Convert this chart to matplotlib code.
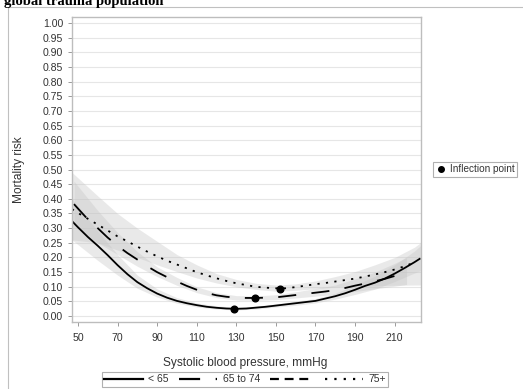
import numpy as np
import matplotlib
matplotlib.use("Agg")
import matplotlib.pyplot as plt
from matplotlib.lines import Line2D
from matplotlib.patches import Rectangle

plt.rcParams['font.family'] = ['Liberation Sans', 'DejaVu Sans']

# fitted mortality curves
sbp_lt65 = [47, 50, 55, 60, 65, 70, 75, 80, 85, 90, 95, 100, 105, 110, 115, 120, 125, 130,
            135, 140, 145, 150, 155, 160, 165, 170, 175, 180, 185, 190, 195, 200, 205, 210,
            215, 220, 223]
risk_lt65 = [0.324, 0.303, 0.270, 0.240, 0.208, 0.174, 0.143, 0.116, 0.095, 0.077, 0.063,
             0.052, 0.044, 0.0375, 0.032, 0.0285, 0.026, 0.025, 0.026, 0.029, 0.032, 0.036,
             0.040, 0.044, 0.048, 0.052, 0.060, 0.068, 0.078, 0.090, 0.103, 0.114, 0.128,
             0.145, 0.164, 0.184, 0.197]

sbp_6574 = [48, 50, 55, 60, 65, 70, 75, 80, 85, 90, 95, 100, 105, 110, 115, 120, 125, 130,
            135, 140, 145, 150, 155, 160, 165, 170, 175, 180, 185, 190, 195, 200, 205, 210, 216]
risk_6574 = [0.382, 0.367, 0.330, 0.300, 0.268, 0.240, 0.215, 0.193, 0.170, 0.150, 0.133,
             0.118, 0.103, 0.090, 0.079, 0.071, 0.066, 0.063, 0.062, 0.062, 0.063, 0.064,
             0.068, 0.072, 0.076, 0.080, 0.084, 0.089, 0.096, 0.104, 0.111, 0.119, 0.127,
             0.137, 0.149]

sbp_75 = [47, 50, 55, 60, 65, 70, 75, 80, 85, 90, 95, 100, 105, 110, 115, 120, 125, 130,
          135, 140, 145, 150, 155, 160, 165, 170, 175, 180, 185, 190, 195, 200, 205, 210,
          215, 221]
risk_75 = [0.365, 0.352, 0.332, 0.312, 0.292, 0.272, 0.255, 0.237, 0.220, 0.204, 0.189,
           0.176, 0.163, 0.150, 0.139, 0.129, 0.120, 0.112, 0.106, 0.100, 0.097, 0.095,
           0.095, 0.099, 0.104, 0.109, 0.113, 0.118, 0.123, 0.128, 0.135, 0.142, 0.150,
           0.159, 0.170, 0.186]

# confidence bands
band_sbp = [47, 60, 70, 80, 90, 100, 110, 120, 130, 140, 150, 160, 170, 180, 190, 200, 210,
            220, 223]
lo_lt65 = [0.26, 0.19, 0.14, 0.095, 0.065, 0.044, 0.031, 0.024, 0.021, 0.024, 0.031, 0.037,
           0.045, 0.058, 0.074, 0.092, 0.118, 0.147, 0.155]
hi_lt65 = [0.40, 0.29, 0.21, 0.14, 0.093, 0.063, 0.045, 0.035, 0.030, 0.034, 0.042, 0.051,
           0.060, 0.078, 0.106, 0.136, 0.175, 0.222, 0.24]

band_sbp_6574 = [48, 60, 70, 80, 90, 100, 110, 120, 130, 140, 150, 160, 170, 180, 190, 200,
                 210, 216]
lo_6574 = [0.31, 0.25, 0.21, 0.17, 0.135, 0.105, 0.080, 0.063, 0.055, 0.054, 0.056, 0.062,
           0.068, 0.074, 0.084, 0.093, 0.102, 0.108]
hi_6574 = [0.46, 0.36, 0.285, 0.22, 0.168, 0.132, 0.100, 0.080, 0.070, 0.069, 0.073, 0.083,
           0.094, 0.106, 0.127, 0.150, 0.18, 0.20]

lo_75 = [0.26, 0.25, 0.225, 0.20, 0.175, 0.152, 0.13, 0.113, 0.10, 0.091, 0.085, 0.088,
         0.093, 0.099, 0.102, 0.104, 0.105, 0.106, 0.106]
hi_75 = [0.49, 0.41, 0.35, 0.30, 0.255, 0.21, 0.175, 0.145, 0.125, 0.112, 0.106, 0.11,
         0.12, 0.135, 0.152, 0.175, 0.20, 0.235, 0.25]

# inflection points
infl_sbp = [129, 139.5, 152.2]
infl_risk = [0.025, 0.062, 0.094]

legend_labels = ['< 65', '65 to 74', '', '75+']
yticks = np.arange(0, 1.0001, 0.05)
xticks = [50, 70, 90, 110, 130, 150, 170, 190, 210]

W, H = 523, 389
fig = plt.figure(figsize=(W / 100, H / 100), dpi=100)
ax = fig.add_axes([72 / W, 1 - 322 / H, (421 - 72) / W, (322 - 17) / H])

band_kw = dict(color='#c4c4c4', alpha=0.36, linewidth=0)
ax.fill_between(band_sbp, lo_75, hi_75, **band_kw)
ax.fill_between(band_sbp_6574, lo_6574, hi_6574, **band_kw)
ax.fill_between(band_sbp, lo_lt65, hi_lt65, **band_kw)

lw = 1.3
ax.plot(sbp_lt65, risk_lt65, color='black', lw=lw, solid_capstyle='butt')
ax.plot(sbp_6574, risk_6574, color='black', lw=lw, linestyle=(0, (10, 8.5)))
ax.plot(sbp_75, risk_75, color='black', lw=lw, linestyle=(0, (1.2, 3.5)))
ax.plot(infl_sbp, infl_risk, 'o', color='black', ms=4.8, zorder=5)

ax.set_xlim(47, 223.3)
ax.set_ylim(-0.02, 1.02)
ax.set_yticks(yticks)
ax.set_yticklabels([f'{v:.2f}' for v in yticks])
ax.set_xticks(xticks)
ax.grid(axis='y', color='#e6e6e6', lw=0.8)
ax.set_axisbelow(True)
for s in ax.spines.values():
    s.set_color('#bdbdbd')
    s.set_linewidth(1.0)
ax.tick_params(axis='both', length=3, width=0.7, color='#9a9a9a', labelsize=7.6,
               labelcolor='#333333')
ax.tick_params(axis='y', pad=3.5)
ax.tick_params(axis='x', pad=5)

ax.set_xlabel('Systolic blood pressure, mmHg', fontsize=8.6, color='#333333')
ax.set_ylabel('Mortality risk', fontsize=8.6, color='#333333')
ax.xaxis.set_label_coords((245 - 72) / (421 - 72), -(357 - 322) / (322 - 17))
ax.yaxis.set_label_coords(-(72 - 25) / (421 - 72), (322 - 170) / (322 - 17))

# group legend at the bottom
handles = [
    Line2D([], [], color='black', lw=1.6),
    Line2D([], [], color='black', lw=1.6, linestyle=(0, (9.5, 7))),
    Line2D([], [], color='black', lw=1.6, linestyle=(0, (4, 2.6))),
    Line2D([], [], color='black', lw=1.6, linestyle=(0, (1, 3.2))),
]
leg = fig.legend(handles, legend_labels, loc='center', ncol=4,
                 bbox_to_anchor=(245 / W, 1 - 379.5 / H), fontsize=7.5,
                 handlelength=3.7, handletextpad=0.5, columnspacing=1.0,
                 borderpad=0.25, fancybox=False, edgecolor='#b0b0b0', framealpha=1)
leg.get_frame().set_linewidth(0.8)
for t in leg.get_texts():
    t.set_color('#333333')

# inflection point legend on the right
infl_handle = Line2D([], [], marker='o', color='black', linestyle='none', ms=4)
leg2 = fig.legend([infl_handle], ['Inflection point'], loc='center left',
                  bbox_to_anchor=(428 / W, 1 - 169.5 / H), fontsize=7.2,
                  handlelength=1.0, handletextpad=0.45, borderpad=0.25,
                  fancybox=False, edgecolor='#b0b0b0', framealpha=1)
leg2.get_frame().set_linewidth(0.8)
for t in leg2.get_texts():
    t.set_color('#333333')

# outer graph frame, cut off at the edges
fig.add_artist(Rectangle((8.3 / W, -0.1), 1.2, 1 - 7.5 / H + 0.1,
                         transform=fig.transFigure, fill=False,
                         edgecolor='#c0c0c0', lw=0.8))

fig.text(4 / W, 1 - 5 / H, 'global trauma population', fontsize=10.5,
         fontweight='bold', family='Liberation Serif', va='baseline', ha='left')

fig.savefig('out.png', dpi=100)
